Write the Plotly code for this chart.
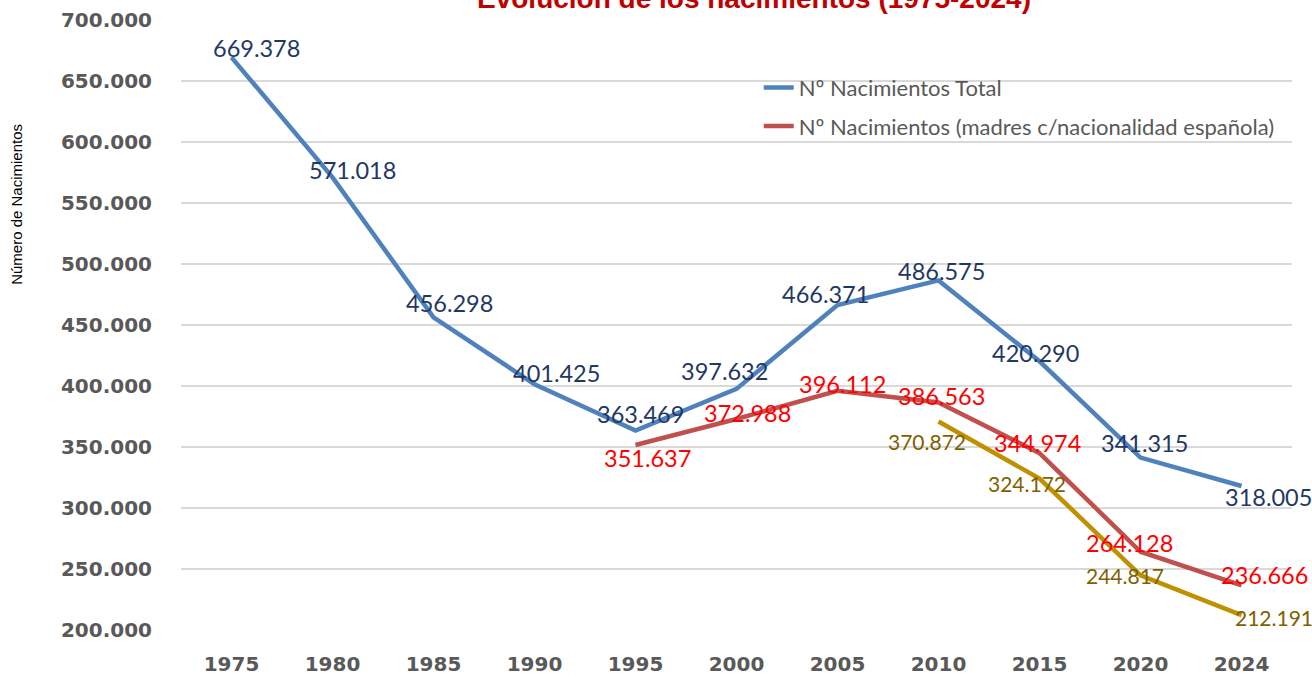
import plotly.graph_objects as go

# Datos
years = ['1975', '1980', '1985', '1990', '1995', '2000', '2005', '2010', '2015', '2020', '2024']
total = [669378, 571018, 456298, 401425, 363469, 397632, 466371, 486575, 420290, 341315, 318005]
years_esp = ['1995', '2000', '2005', '2010', '2015', '2020', '2024']
madres_esp = [351637, 372988, 396112, 386563, 344974, 264128, 236666]
years_3 = ['2010', '2015', '2020', '2024']
serie_3 = [370872, 324172, 244817, 212191]

# desplazamiento de las etiquetas (px)
off_total = [(25, 9), (20, 7), (16, 14), (22, 11), (5, 17), (-12, 18), (-12, 11), (3, 9), (-4, 8), (4, 15), (27, -11)]
off_esp = [(12, -13), (11, 6), (5, 7), (3, 6), (-2, 10), (-11, 9), (23, 10)]
off_3 = [(-12, -20), (-13, -5), (-16, 0), (32, -2)]


def fmt(v):
    return f"{v:,}".replace(",", ".")


fig = go.Figure()
fig.add_trace(go.Scatter(x=years, y=total, mode='lines', name='Nº Nacimientos Total',
                         line=dict(color='#4f81bd', width=4.5), legendgroup='a'))
fig.add_trace(go.Scatter(x=years_esp, y=madres_esp, mode='lines',
                         name='Nº Nacimientos (madres c/nacionalidad española)',
                         line=dict(color='#c0504d', width=4.5), legendgroup='b'))
fig.add_trace(go.Scatter(x=years_3, y=serie_3, mode='lines', showlegend=False,
                         line=dict(color='#bf9000', width=4.5)))

# etiquetas de datos (x como posicion de categoria)
for xs, ys, offs, col, size in [(years, total, off_total, '#1f3864', 23.5),
                                (years_esp, madres_esp, off_esp, '#ff0000', 23.5),
                                (years_3, serie_3, off_3, '#7f6000', 21)]:
    for x, y, (dx, dy) in zip(xs, ys, offs):
        fig.add_annotation(x=years.index(x), y=y, text=fmt(y), showarrow=False,
                           xshift=dx, yshift=dy, xanchor='center', yanchor='middle',
                           font=dict(family='Lato', size=size, color=col))

# Título (cortado en la parte superior)
fig.add_annotation(x=0.516, y=1.035, xref='paper', yref='paper', xanchor='center', yanchor='middle',
                   text='<b>Evolución de los nacimientos (1975-2024)</b>', showarrow=False,
                   font=dict(family='Liberation Sans', size=28, color='#c00000'))
fig.add_annotation(x=-0.1476, y=0.697, xref='paper', yref='paper', textangle=-90,
                   xanchor='center', yanchor='middle',
                   text='Número de Nacimientos', showarrow=False,
                   font=dict(family='Liberation Sans', size=15, color='#000000'))

fig.update_layout(
    width=1312, height=678,
    margin=dict(l=181, r=20, t=20, b=48, autoexpand=False),
    paper_bgcolor='white', plot_bgcolor='white',
    separators=',.',
    legend=dict(x=0.520, y=0.9236, xanchor='left', yanchor='top', traceorder='grouped',
                tracegroupgap=7, bgcolor='rgba(0,0,0,0)', itemwidth=30,
                font=dict(family='Lato', size=22, color='#595959')),
    xaxis=dict(type='category', range=[-0.5, 10.5], showgrid=False, zeroline=False,
               ticks='', ticklabelstandoff=20, automargin=False,
               tickfont=dict(family='DejaVu Sans', size=20, color='#595959', weight='bold')),
    yaxis=dict(range=[200000, 700000], dtick=50000, tickformat=',.0f', showgrid=True,
               gridcolor='#d9d9d9', gridwidth=1.5, zeroline=False, ticks='',
               ticklabelstandoff=28, automargin=False,
               tickfont=dict(family='DejaVu Sans', size=20, color='#595959', weight='bold')),
)

fig.write_html("out.html", config={'displayModeBar': False},
               post_script="document.body.style.margin='0';")
